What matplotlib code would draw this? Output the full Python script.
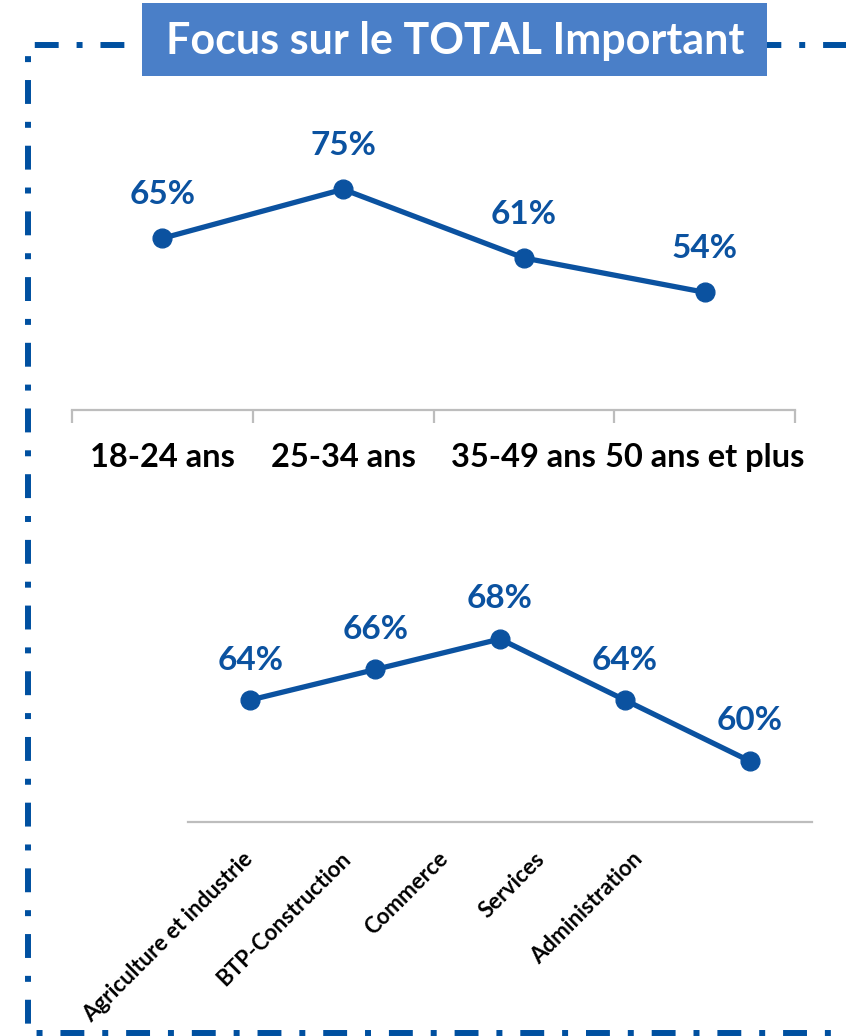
import matplotlib
matplotlib.use("Agg")
import matplotlib.pyplot as plt
import matplotlib.transforms as mtransforms
from matplotlib.lines import Line2D
from matplotlib.patches import Rectangle

plt.rcParams['font.family'] = ['Lato', 'DejaVu Sans']

# data
age_groups = ["18-24 ans", "25-34 ans", "35-49 ans", "50 ans et plus"]
age_values = [65, 75, 61, 54]

sectors = ["Agriculture et industrie", "BTP-Construction", "Commerce",
           "Services", "Administration"]
sector_values = [64, 66, 68, 64, 60]

title = "Focus sur le TOTAL Important"

blue = "#0B52A0"
border_blue = "#0050A0"
title_bg = "#4A7FC8"
axis_grey = "#BDBDBD"

W, H = 846, 1036
fig = plt.figure(figsize=(W / 100, H / 100), dpi=100)

# dashed frame around everything (runs off the right edge)
def fx(px):
    return px / W

def fy(py):
    return 1 - py / H

frame = Line2D([fx(870), fx(28), fx(28), fx(870)],
               [fy(44.5), fy(44.5), fy(1033), fy(1033)],
               transform=fig.transFigure, color=border_blue, lw=4.3,
               linestyle=(0, (4, 3, 1, 3)), dash_capstyle='butt',
               solid_joinstyle='miter', zorder=1)
fig.add_artist(frame)

# title box
fig.add_artist(Rectangle((fx(142), fy(76)), fx(767) - fx(142), fy(3) - fy(76),
                         transform=fig.transFigure, facecolor=title_bg,
                         edgecolor='none', zorder=2))
fig.text(fx(455), fy(41), title, color='white', fontsize=31, fontweight='bold',
         ha='center', va='center', zorder=3)


def line_panel(ax, cats, vals, ylim, label_off):
    x = list(range(len(cats)))
    ax.plot(x, vals, color=blue, lw=3.8, marker='o', markersize=13.5,
            solid_capstyle='round', clip_on=False)
    for xi, v in zip(x, vals):
        ax.annotate(f"{v}%", (xi, v), xytext=(0, label_off),
                    textcoords='offset points', ha='center', va='center',
                    color=blue, fontsize=24, fontweight='bold')
    ax.set_xlim(-0.5, len(cats) - 0.5)
    ax.set_ylim(*ylim)
    for s in ['top', 'left', 'right']:
        ax.spines[s].set_visible(False)
    ax.spines['bottom'].set_color(axis_grey)
    ax.spines['bottom'].set_linewidth(1.6)
    ax.set_yticks([])
    ax.patch.set_alpha(0)


# top panel: age groups
ax1 = fig.add_axes([fx(72), fy(410), fx(795) - fx(72), (85 - 30) * 4.905 / H])
line_panel(ax1, age_groups, age_values, (30, 85), 31.5)
ax1.set_xticks(range(len(age_groups)))
ax1.set_xticklabels(age_groups, fontsize=23.5, fontweight='bold')
ax1.tick_params(axis='x', which='major', length=0, pad=24)
ax1.set_xticks([i - 0.5 for i in range(len(age_groups) + 1)], minor=True)
ax1.tick_params(axis='x', which='minor', length=9, width=1.6, color=axis_grey)

# bottom panel: sectors
ax2 = fig.add_axes([fx(188), fy(822), fx(812) - fx(188), (70 - 56) * 15.25 / H])
line_panel(ax2, sectors, sector_values, (56, 70), 28.8)
ax2.set_xticks([])
base = ax2.get_xaxis_transform()
for i, name in enumerate(sectors):
    shift = mtransforms.ScaledTranslation(-0.08 - 0.275 * i, -0.26,
                                          fig.dpi_scale_trans)
    ax2.text(i, 0, name, transform=base + shift, rotation=45,
             rotation_mode='anchor', ha='right', va='top', fontsize=16,
             fontweight='bold', color='black')

fig.savefig("out.png", dpi=100)
